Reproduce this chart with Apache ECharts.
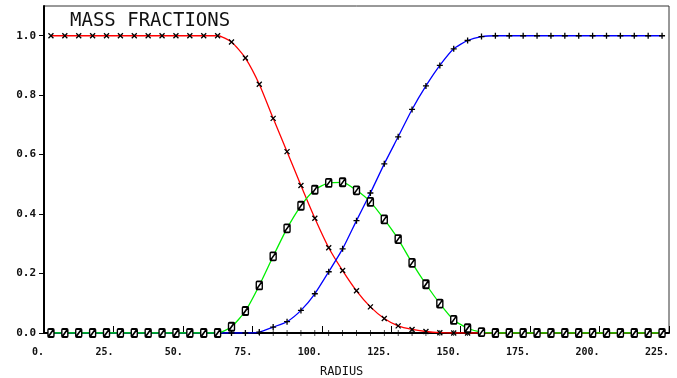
<!DOCTYPE html>
<html>
<head>
<meta charset="UTF-8"/>
<title>Mass fractions</title>
<script src="https://cdn.jsdelivr.net/npm/echarts@6/dist/echarts.min.js"></script>
<style>
body{margin:0;background:#fff;}
#main{width:677px;height:378px;}
</style>
</head>
<body>
<div id="main"></div>
<script type="text/javascript">
// radius of each sample point
var radius = [2.5, 7.5, 12.5, 17.5, 22.5, 27.5, 32.5, 37.5, 42.5, 47.5,
  52.5, 57.5, 62.5, 67.5, 72.5, 77.5, 82.5, 87.5, 92.5, 97.5,
  102.5, 107.5, 112.5, 117.5, 122.5, 127.5, 132.5, 137.5, 142.5, 147.5,
  152.5, 157.5, 162.5, 167.5, 172.5, 177.5, 182.5, 187.5, 192.5, 197.5,
  202.5, 207.5, 212.5, 217.5, 222.5];
// mass fractions
var redVals = [1, 1, 1, 1, 1, 1, 1, 1, 1, 1,
  1, 1, 1, 0.979, 0.925, 0.837, 0.722, 0.610, 0.496, 0.386,
  0.287, 0.210, 0.142, 0.088, 0.049, 0.024, 0.012, 0.005, 0.001, 0,
  0, 0, 0, 0, 0, 0, 0, 0, 0, 0,
  0, 0, 0, 0, 0];
var greenVals = [0, 0, 0, 0, 0, 0, 0, 0, 0, 0,
  0, 0, 0, 0.021, 0.074, 0.160, 0.258, 0.352, 0.428, 0.482,
  0.505, 0.507, 0.480, 0.441, 0.382, 0.316, 0.236, 0.164, 0.099, 0.044,
  0.016, 0.003, 0, 0, 0, 0, 0, 0, 0, 0,
  0, 0, 0, 0, 0];
var blueVals = [0, 0, 0, 0, 0, 0, 0, 0, 0, 0,
  0, 0, 0, 0, 0, 0.003, 0.020, 0.038, 0.076, 0.132,
  0.206, 0.283, 0.378, 0.471, 0.569, 0.660, 0.752, 0.831, 0.900, 0.956,
  0.984, 0.997, 1, 1, 1, 1, 1, 1, 1, 1,
  1, 1, 1, 1, 1];
var zeroVals = [0, 0, 0, 0, 0, 0, 0, 0, 0, 0,
  0, 0, 0, 0, 0, 0, 0, 0, 0, 0,
  0, 0, 0, 0, 0, 0, 0, 0, 0, 0,
  0, 0, 0, 0, 0, 0, 0, 0, 0, 0,
  0, 0, 0, 0, 0];
var yTicks = [0, 0.2, 0.4, 0.6, 0.8, 1.0];

function pairs(vals){
  var out = [];
  for (var i = 0; i < radius.length; i++) out.push([radius[i], vals[i]]);
  return out;
}

var mono = 'DejaVu Sans Mono';
var myChart = echarts.init(document.getElementById('main'));
var option = {
  animation: false,
  backgroundColor: '#fff',
  grid: {left: 44, right: 8, top: 6, bottom: 45, outerBoundsMode: 'none', containLabel: false,
    show: true, borderColor: '#333', borderWidth: 1},
  graphic: [
    {type: 'text', left: 70, top: 12, style: {text: 'MASS FRACTIONS', font: '19px "DejaVu Sans Mono"', fill: '#111'}},
    {type: 'text', left: 320, top: 366, style: {text: 'RADIUS', font: '12px "DejaVu Sans Mono"', fill: '#111'}}
  ],
  xAxis: {
    type: 'value', min: 0, max: 225, interval: 25,
    axisLine: {lineStyle: {color: '#000', width: 2}},
    axisTick: {inside: true, length: 7, lineStyle: {color: '#000'}},
    axisLabel: {
      margin: 14, color: '#111', fontFamily: mono, fontSize: 10, fontWeight: 'bold',
      align: 'right', hideOverlap: false,
      formatter: function(v){ return v + '.'; }
    },
    splitLine: {show: false}
  },
  yAxis: {
    type: 'value', min: 0, max: 1.1,
    axisLine: {show: true, lineStyle: {color: '#000', width: 2}},
    axisTick: {show: true, length: 5, customValues: yTicks, lineStyle: {color: '#000'}},
    axisLabel: {
      margin: 8, color: '#111', fontFamily: mono, fontSize: 11, fontWeight: 'bold',
      customValues: yTicks,
      formatter: function(v){ return v.toFixed(1); }
    },
    splitLine: {show: false}
  },
  series: [
    {
      type: 'line', data: pairs(zeroVals), z: 2,
      symbol: 'path://M2,0L2,6M0,3L4,3', symbolSize: [3, 6],
      lineStyle: {color: '#000', width: 1},
      itemStyle: {color: '#000', borderColor: '#000', borderWidth: 1}
    },
    {
      type: 'line', data: pairs(redVals), smooth: 0.2, z: 3,
      symbol: 'path://M0,0L6,6M6,0L0,6', symbolSize: 5,
      lineStyle: {color: '#ff0000', width: 1.3},
      itemStyle: {color: '#000', borderColor: '#000', borderWidth: 1.3}
    },
    {
      type: 'line', data: pairs(blueVals), smooth: 0.2, z: 3,
      symbol: 'path://M3,0L3,6M0,3L6,3', symbolSize: 6,
      lineStyle: {color: '#0000ff', width: 1.3},
      itemStyle: {color: '#000', borderColor: '#000', borderWidth: 1.3}
    },
    {
      type: 'line', data: pairs(greenVals), smooth: 0.2, z: 4,
      symbol: 'path://M1,0L5,0Q6,0 6,1L6,7Q6,8 5,8L1,8Q0,8 0,7L0,1Q0,0 1,0ZM0.5,7.5L5.5,0.5', symbolSize: [6, 8],
      lineStyle: {color: '#00ee00', width: 1.3},
      itemStyle: {color: '#fff', borderColor: '#000', borderWidth: 1.6}
    }
  ]
};
myChart.setOption(option);
</script>
</body>
</html>
